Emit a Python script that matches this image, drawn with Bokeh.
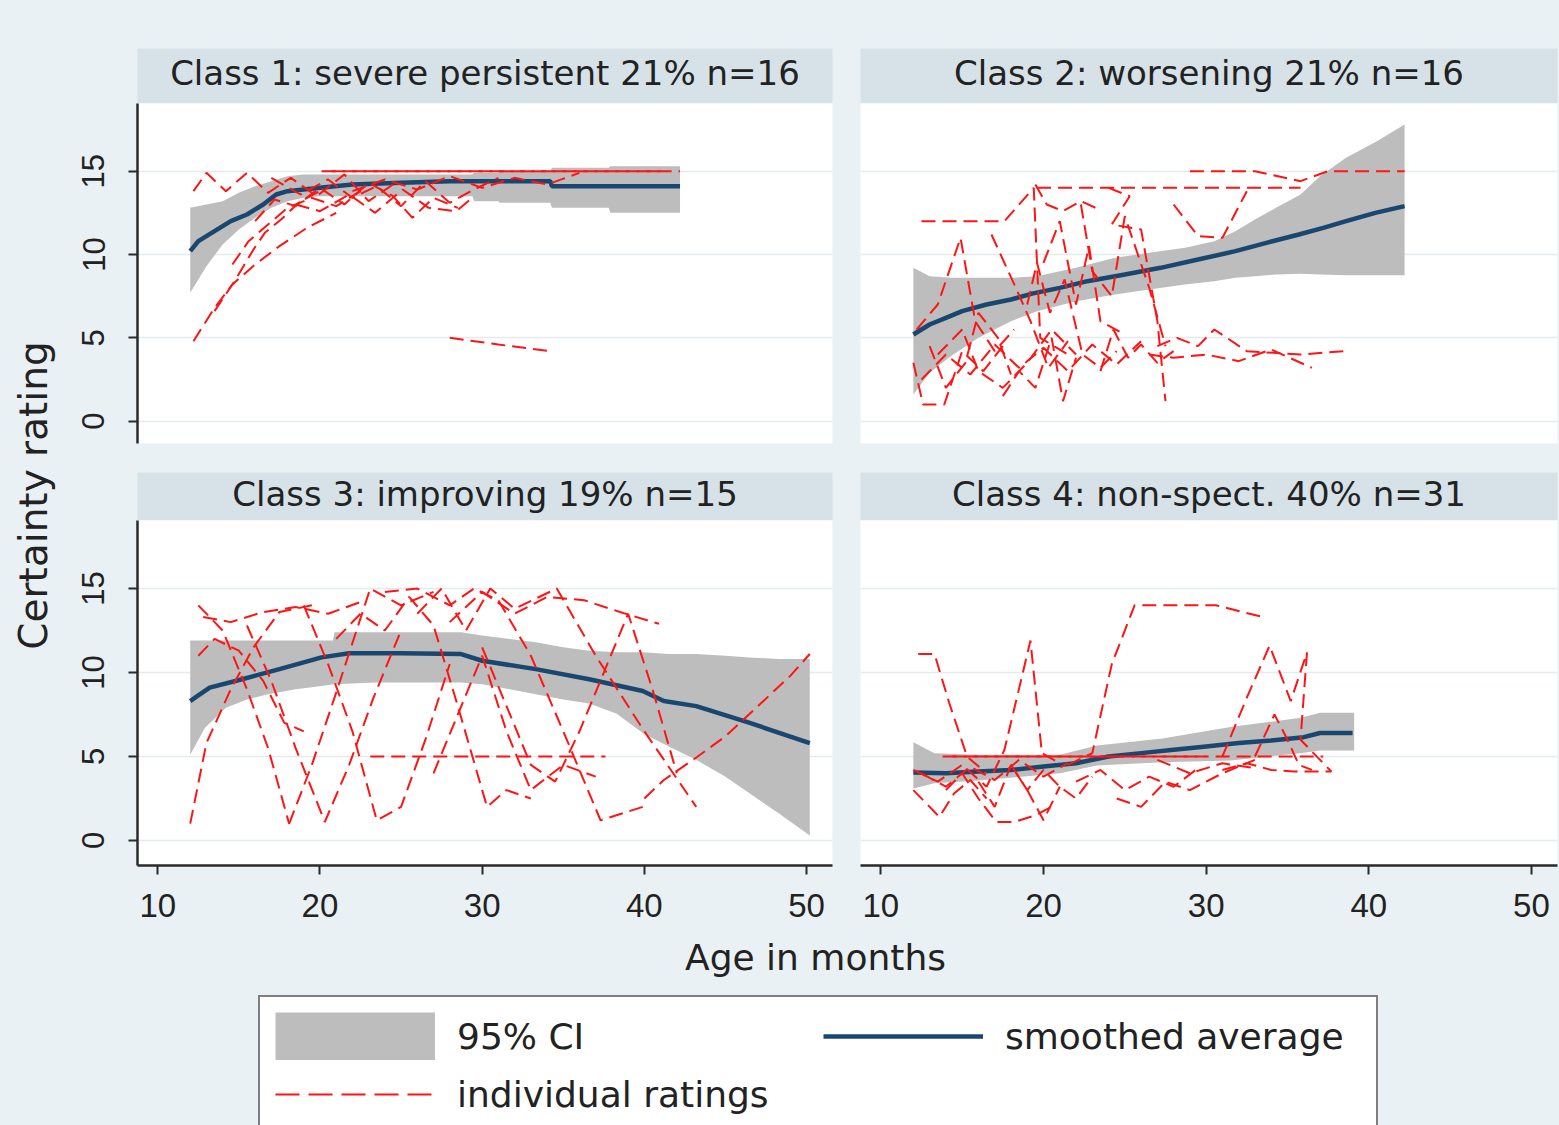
import math
from bokeh.plotting import figure
from bokeh.layouts import row, column
from bokeh.models import Range1d, FixedTicker, Label, Legend, LegendItem
from bokeh.embed import file_html
from bokeh.resources import INLINE

# ---------------------------------------------------------------- colours
PAGE_BG = "#eaf1f4"
HEAD_BG = "#d6e2e8"
GRID = "#e3ebef"
CI_GRAY = "#bdbdbd"
NAVY = "#1a476f"
RED = "#ff1414"
AXIS = "#2a2a2a"
INK = "#222222"

# ---------------------------------------------------------------- data
x_ticks = [10, 20, 30, 40, 50]
y_ticks = [0, 5, 10, 15]

titles = [
    "Class 1: severe persistent 21% n=16",
    "Class 2: worsening 21% n=16",
    "Class 3: improving 19% n=15",
    "Class 4: non-spect. 40% n=31",
]

# Class 1: severe persistent
c1_ci_x = [12, 13, 14, 15, 16, 17, 18, 19, 20, 22, 25, 29.4, 29.5, 31, 31.1, 34.2, 34.3, 37.8, 37.9, 42.2]
c1_ci_hi = [12.8, 13.0, 13.2, 13.7, 14.1, 14.4, 14.7, 14.8, 14.8, 14.8, 14.8, 14.8, 14.9, 14.9, 15.0, 15.0, 15.2, 15.2, 15.3, 15.3]
c1_ci_lo = [7.7, 9.3, 10.6, 11.5, 12.2, 12.8, 13.2, 13.4, 13.5, 13.5, 13.5, 13.5, 13.2, 13.2, 13.1, 13.1, 12.8, 12.8, 12.5, 12.5]
c1_avg_x = [12, 12.5, 13.5, 14.5, 15.5, 16.5, 17.3, 18, 19, 20, 22, 25, 28, 31, 34.2, 34.3, 42.2]
c1_avg_y = [10.2, 10.8, 11.4, 12.0, 12.4, 13.0, 13.6, 13.8, 13.9, 14.0, 14.2, 14.3, 14.4, 14.4, 14.4, 14.1, 14.1]
c1_ind = [
    ([12.2, 13.5, 14.6, 16.0, 17.5, 19.2, 21.0], [4.8, 6.8, 8.2, 9.4, 10.5, 11.6, 12.5]),
    ([13.5, 14.8, 15.9, 16.6, 17.6, 18.8, 20.2], [6.6, 8.5, 10.3, 11.3, 12.1, 13.2, 13.9]),
    ([14.6, 15.6, 16.8, 18.0, 19.5, 21.0, 22.5], [9.4, 10.8, 11.8, 12.8, 13.4, 12.9, 13.8]),
    ([12.2, 13.0, 14.2, 15.5, 16.8, 18.2, 19.8, 21.5, 23.0, 24.5], [13.8, 14.9, 13.8, 14.9, 13.7, 14.6, 13.5, 14.8, 13.2, 14.2]),
    ([16.0, 17.2, 18.5, 20.0, 21.5, 23.0, 24.5, 25.7, 27.0, 28.5], [12.0, 13.3, 12.9, 14.0, 13.0, 14.3, 13.5, 12.2, 13.4, 12.8]),
    ([17.0, 18.8, 20.5, 22.0, 23.5, 25.0, 26.5, 28.0, 29.5, 31.0], [14.6, 13.6, 14.5, 13.4, 14.1, 12.9, 14.4, 13.1, 13.9, 14.6]),
    ([20.1, 42.2], [15.0, 15.0]),
    ([20.7, 41.0], [15.0, 15.0]),
    ([22.0, 24.0, 26.0, 28.0, 30.0, 32.0, 34.0, 36.0], [13.8, 14.5, 13.9, 14.7, 14.0, 14.6, 14.2, 14.9]),
    ([28.0, 31.0, 34.2], [5.0, 4.6, 4.2]),
    ([18.5, 20.0, 21.8, 23.4, 25.1, 26.7, 28.4, 29.5], [13.0, 12.6, 13.6, 12.5, 13.9, 12.8, 12.6, 13.5]),
]

# Class 2: worsening
c2_ci_x = [12, 13, 14.3, 16, 18, 19.6, 22, 24.4, 26.5, 28.7, 30.5, 31.8, 33, 34.3, 35.8, 37, 38.6, 40.5, 42.2]
c2_ci_hi = [9.2, 8.7, 8.6, 8.6, 8.6, 8.7, 9.2, 9.8, 10.1, 10.4, 10.8, 11.4, 12.1, 12.8, 13.6, 14.7, 15.8, 16.8, 17.8]
c2_ci_lo = [1.6, 2.9, 3.9, 5.0, 6.0, 6.6, 7.2, 7.6, 7.9, 8.2, 8.4, 8.6, 8.7, 8.8, 8.85, 8.8, 8.75, 8.75, 8.75]
c2_avg_x = [12, 13, 14, 15, 16.5, 18, 19.3, 21, 22.7, 25, 27.2, 29.5, 31.8, 33.7, 35.7, 37.2, 38.6, 40.4, 42.2]
c2_avg_y = [5.2, 5.8, 6.2, 6.6, 7.0, 7.3, 7.65, 8.0, 8.4, 8.8, 9.2, 9.7, 10.2, 10.7, 11.2, 11.6, 12.0, 12.5, 12.9]
c2_ind = [
    ([12.5, 17.6, 19.4, 19.8, 21.5], [12.0, 12.0, 14.0, 5.0, 4.0]),
    ([19.6, 24.0, 28.0, 32.0, 35.8], [14.0, 14.0, 14.0, 14.0, 14.0]),
    ([29.0, 33.0, 35.8, 37.5, 42.2], [15.0, 15.0, 14.4, 15.0, 15.0]),
    ([12.0, 12.6, 13.9, 15.0, 16.3, 17.5], [3.5, 1.0, 1.0, 4.2, 3.0, 4.5]),
    ([12.2, 13.5, 14.9, 15.8, 17.0, 18.2], [5.5, 7.0, 11.0, 6.0, 4.2, 5.5]),
    ([16.8, 18.3, 19.2, 20.3, 21.5], [11.2, 8.0, 6.0, 3.2, 4.8]),
    ([19.5, 20.2, 21.2, 22.3, 23.2], [14.2, 13.0, 12.6, 13.2, 12.8]),
    ([22.3, 23.0, 24.2, 25.0, 26.5, 27.5], [13.0, 9.0, 7.5, 12.3, 8.0, 4.5]),
    ([24.0, 25.3, 24.2, 26.0, 27.0, 27.5], [14.0, 13.5, 11.8, 11.5, 6.0, 1.2]),
    ([27.0, 28.2, 29.5, 30.5, 32.5, 35.8, 38.5], [4.5, 5.0, 4.5, 5.5, 4.2, 4.0, 4.2]),
    ([26.5, 28.0, 30.0, 32.0, 34.0, 36.5], [4.0, 3.8, 4.0, 3.6, 4.3, 3.2]),
    ([28.0, 29.5, 31.0, 32.5], [13.0, 11.1, 11.0, 13.8]),
    ([12.5, 14.0, 15.5, 17.0, 18.5, 20.0, 21.5, 23.0, 24.5, 26.0], [2.5, 4.0, 2.8, 4.6, 3.2, 4.4, 3.0, 4.6, 3.4, 4.8]),
    ([13.5, 15.0, 16.0, 17.5, 19.0, 20.5, 22.0], [4.0, 5.5, 3.0, 2.0, 3.5, 5.5, 4.0]),
    ([20.0, 21.0, 22.0, 22.8, 23.5, 25.0], [9.5, 12.0, 7.0, 10.5, 6.0, 5.2]),
    ([17.5, 18.5, 19.5, 20.5, 21.2, 22.0], [1.5, 3.0, 2.0, 5.0, 1.2, 3.8]),
    ([13.0, 14.0, 15.2, 16.0, 17.2, 18.0], [4.5, 2.0, 3.5, 6.5, 5.0, 2.8]),
    ([19.0, 19.6, 20.4, 21.3, 22.4, 23.5, 24.5], [7.0, 9.5, 6.5, 8.5, 4.0, 3.2, 4.2]),
    ([23.5, 24.3, 25.2, 26.0, 27.0, 28.0], [3.0, 5.5, 3.8, 4.6, 3.5, 4.2]),
]

# Class 3: improving
c3_ci_x = [12, 12.9, 14.2, 15.5, 16.8, 18.5, 20.1, 20.8, 20.9, 23.4, 28.7, 30, 31.7, 33.3, 35, 36.6, 38.3, 39.9, 41.5, 43.2, 45, 46.5, 48.3, 50.2]
c3_ci_hi = [11.9, 11.9, 11.9, 11.9, 11.9, 11.9, 11.9, 11.9, 12.4, 12.4, 12.4, 12.2, 12.0, 11.8, 11.5, 11.3, 11.2, 11.2, 11.1, 11.1, 11.0, 10.9, 10.8, 10.8]
c3_ci_lo = [5.1, 6.7, 7.9, 8.4, 8.7, 9.0, 9.2, 9.3, 9.3, 9.4, 9.4, 9.3, 9.0, 8.7, 8.4, 8.15, 7.55, 6.4, 5.6, 4.8, 3.8, 2.8, 1.6, 0.3]
c3_avg_x = [12, 12.3, 13.2, 15.2, 17.5, 20.1, 21.8, 25, 28.7, 30, 33.3, 36.6, 39.9, 41.2, 43.2, 46.5, 50.2]
c3_avg_y = [8.3, 8.5, 9.1, 9.6, 10.2, 10.9, 11.15, 11.15, 11.1, 10.7, 10.2, 9.6, 8.9, 8.3, 8.0, 7.0, 5.8]
c3_ind = [
    ([12.0, 13.0, 14.5, 15.9, 17.5, 19.5], [1.0, 5.8, 9.0, 11.5, 13.6, 14.0]),
    ([12.5, 14.0, 15.5, 16.8, 18.1], [14.0, 12.5, 9.0, 5.5, 1.0]),
    ([12.8, 14.5, 16.5, 18.5, 20.5, 22.5], [13.3, 13.0, 13.6, 13.9, 13.5, 14.2]),
    ([12.5, 13.5, 15.0, 16.5, 17.8, 19.0], [11.0, 12.0, 11.3, 9.5, 7.0, 6.5]),
    ([15.5, 17.0, 18.5, 20.3, 21.8, 23.3, 25.0], [12.8, 9.5, 5.5, 1.1, 4.5, 8.5, 12.5]),
    ([18.1, 19.5, 21.0, 23.1, 25.0, 27.0], [1.0, 4.5, 8.8, 15.0, 14.0, 14.8]),
    ([19.0, 20.5, 22.0, 23.5, 25.0, 26.5, 28.0], [14.0, 10.5, 6.5, 1.2, 2.0, 6.0, 10.5]),
    ([21.0, 22.5, 24.0, 25.5, 27.0, 28.5, 30.3, 31.5, 33.0], [12.0, 13.5, 12.5, 14.5, 12.8, 8.0, 2.0, 3.0, 2.5]),
    ([23.1, 26.0, 29.0, 32.0, 35.0, 37.6], [5.0, 5.0, 5.0, 5.0, 5.0, 5.0]),
    ([24.0, 26.0, 28.0, 29.5, 31.0, 33.0, 35.0, 37.3, 39.9], [14.8, 15.0, 14.0, 15.0, 14.3, 11.0, 6.5, 1.2, 2.0]),
    ([26.0, 27.5, 29.0, 30.5, 32.0, 34.6, 37.0, 40.0, 43.2], [13.5, 15.0, 12.5, 15.0, 13.8, 15.0, 11.0, 6.5, 2.0]),
    ([28.0, 30.0, 32.0, 34.0, 36.3, 38.5, 40.9], [13.0, 14.8, 13.5, 14.5, 14.3, 13.6, 12.9]),
    ([30.0, 31.5, 33.0, 34.5, 36.0, 37.5, 39.0, 40.5, 42.0], [11.5, 8.0, 4.5, 3.5, 6.5, 10.0, 13.5, 9.0, 4.0]),
    ([40.0, 41.2, 43.0, 45.0, 47.0, 49.0, 50.2], [2.5, 3.6, 4.8, 6.2, 8.0, 9.8, 11.1]),
    ([27.0, 28.5, 30.0, 31.5, 33.0, 35.0, 37.0], [4.0, 7.5, 11.0, 6.5, 3.0, 4.5, 3.8]),
]

# Class 4: non-specific
c4_ci_x = [12, 13.3, 16, 21, 23.3, 27.3, 31.5, 35.8, 37.0, 39.1]
c4_ci_hi = [5.85, 5.2, 5.1, 5.1, 5.65, 6.07, 6.75, 7.3, 7.6, 7.6]
c4_ci_lo = [3.1, 3.4, 3.57, 4.0, 4.46, 4.66, 4.76, 5.2, 5.36, 5.36]
c4_avg_x = [12, 14, 16, 18, 20, 22, 24, 26, 28, 30, 32, 34, 36, 37, 39]
c4_avg_y = [4.05, 4.0, 4.1, 4.2, 4.4, 4.6, 5.0, 5.2, 5.4, 5.6, 5.8, 5.95, 6.15, 6.4, 6.4]
c4_ind = [
    ([12.3, 13.3, 14.2, 15.3, 16.5], [11.1, 11.1, 8.2, 5.0, 4.0]),
    ([12.0, 13.5, 15.0, 16.5, 17.6, 19.2, 19.9, 21.0], [4.2, 3.5, 4.5, 3.2, 5.4, 11.9, 5.2, 4.6]),
    ([21.5, 23.0, 24.2, 25.6, 28.0, 30.6, 33.5], [4.5, 5.2, 10.5, 14.0, 14.0, 14.0, 13.3]),
    ([31.0, 32.5, 33.9, 35.2, 36.2, 35.8, 37.7], [5.0, 8.5, 11.6, 8.3, 11.2, 6.0, 4.1]),
    ([13.8, 37.2], [5.0, 5.0]),
    ([14.4, 30.0], [5.0, 5.0]),
    ([12.0, 12.8, 13.6, 14.5, 15.5, 16.5], [3.0, 2.2, 1.4, 2.8, 3.6, 2.5]),
    ([14.0, 15.0, 16.0, 17.1, 18.2, 19.5, 20.5], [3.0, 4.0, 2.5, 1.1, 1.1, 1.5, 2.0]),
    ([18.0, 19.0, 20.0, 21.0, 22.0, 23.0], [4.5, 3.0, 4.2, 3.2, 2.5, 3.8]),
    ([22.0, 23.5, 25.0, 26.5, 28.0, 29.5], [3.5, 4.2, 3.0, 3.8, 3.2, 4.3]),
    ([24.5, 26.0, 27.5, 29.0, 31.0, 33.0], [2.5, 2.0, 3.5, 3.0, 4.0, 4.8]),
    ([31.0, 32.5, 34.0, 35.4, 37.7], [4.2, 4.6, 4.2, 4.1, 4.1]),
    ([12.5, 14.0, 15.5, 17.0, 18.5, 20.0, 21.5], [4.0, 3.2, 4.4, 3.6, 4.8, 3.8, 4.6]),
    ([16.0, 17.0, 18.0, 19.0, 20.0, 21.0], [3.5, 2.0, 4.5, 3.0, 1.2, 3.2]),
    ([33.0, 34.2, 35.0, 35.7, 36.5], [5.0, 7.5, 6.0, 4.5, 4.2]),
    ([27.0, 29.0, 31.0, 33.0], [4.8, 4.0, 4.6, 4.3]),
]

# ---------------------------------------------------------------- geometry
YLAB_W = 60
L_LEFT, L_FRAME, L_RIGHT = 77, 695, 14
R_LEFT, R_FRAME, R_RIGHT = 14, 697, 2
X_RANGE = (8.75, 51.6)

TICK_FONT = "Liberation Sans"
TEXT_FONT = "DejaVu Sans"
DASH = "14 7"


def style_axis(ax, size):
    ax.axis_line_color = AXIS
    ax.axis_line_width = 2.5
    ax.major_tick_line_color = AXIS
    ax.major_tick_line_width = 2
    ax.major_tick_out = 9
    ax.major_tick_in = 0
    ax.minor_tick_out = 0
    ax.minor_tick_in = 0
    ax.major_label_text_font = TICK_FONT
    ax.major_label_text_font_size = size
    ax.major_label_text_color = INK


def panel(ci_x, ci_lo, ci_hi, avg_x, avg_y, ind, left, frame_w, right,
          frame_h, bottom, y_lo, y_hi, show_x, show_y):
    p = figure(width=left + frame_w + right, height=frame_h + bottom,
               x_range=Range1d(*X_RANGE), y_range=Range1d(y_lo, y_hi),
               min_border_left=left, min_border_right=right,
               min_border_top=0, min_border_bottom=bottom,
               output_backend="svg", toolbar_location=None, title=None)
    p.background_fill_color = "white"
    p.border_fill_color = PAGE_BG
    p.outline_line_color = None

    p.varea(x=ci_x, y1=ci_lo, y2=ci_hi, fill_color=CI_GRAY, fill_alpha=1.0)
    p.line(avg_x, avg_y, line_color=NAVY, line_width=4.5)
    p.multi_line(xs=[seg[0] for seg in ind], ys=[seg[1] for seg in ind],
                 line_color=RED, line_width=2, line_dash=DASH)

    p.xaxis.ticker = FixedTicker(ticks=x_ticks)
    p.yaxis.ticker = FixedTicker(ticks=y_ticks)
    p.ygrid.ticker = FixedTicker(ticks=y_ticks)
    p.xgrid.visible = False
    p.ygrid.grid_line_color = GRID
    p.ygrid.grid_line_width = 1.5

    style_axis(p.xaxis[0], "33px")
    style_axis(p.yaxis[0], "31px")
    p.xaxis.major_label_standoff = 19
    p.yaxis.major_label_standoff = 24
    p.yaxis.major_label_orientation = "vertical"
    p.xaxis.visible = show_x
    p.yaxis.visible = show_y
    return p


def header(text, top_pad, band_h, left, frame_w, right):
    h = figure(width=left + frame_w + right, height=top_pad + band_h,
               x_range=Range1d(0, 1), y_range=Range1d(0, 1),
               x_axis_type=None, y_axis_type=None,
               min_border_left=left, min_border_right=right,
               min_border_top=top_pad, min_border_bottom=0,
               output_backend="svg", toolbar_location=None, title=None)
    h.background_fill_color = HEAD_BG
    h.border_fill_color = PAGE_BG
    h.outline_line_color = None
    h.add_layout(Label(x=0.5, y=0.55, text=text, text_align="center",
                       text_baseline="middle", text_font=TEXT_FONT,
                       text_font_size="34px", text_color=INK))
    return h


h1 = header(titles[0], 48, 55, L_LEFT, L_FRAME, L_RIGHT)
h2 = header(titles[1], 48, 55, R_LEFT, R_FRAME, R_RIGHT)
h3 = header(titles[2], 12, 48, L_LEFT, L_FRAME, L_RIGHT)
h4 = header(titles[3], 12, 48, R_LEFT, R_FRAME, R_RIGHT)

p1 = panel(c1_ci_x, c1_ci_lo, c1_ci_hi, c1_avg_x, c1_avg_y, c1_ind,
           L_LEFT, L_FRAME, L_RIGHT, 340, 17, -1.34, 19.06, False, True)
p2 = panel(c2_ci_x, c2_ci_lo, c2_ci_hi, c2_avg_x, c2_avg_y, c2_ind,
           R_LEFT, R_FRAME, R_RIGHT, 340, 17, -1.34, 19.06, False, False)
p3 = panel(c3_ci_x, c3_ci_lo, c3_ci_hi, c3_avg_x, c3_avg_y, c3_ind,
           L_LEFT, L_FRAME, L_RIGHT, 345, 65, -1.49, 19.05, True, True)
p4 = panel(c4_ci_x, c4_ci_lo, c4_ci_hi, c4_avg_x, c4_avg_y, c4_ind,
           R_LEFT, R_FRAME, R_RIGHT, 345, 65, -1.49, 19.05, True, False)

# shared y-axis title on the left
TOP_H = 103 + 357 + 60 + 410
ylab = figure(width=YLAB_W, height=TOP_H, x_range=Range1d(0, YLAB_W),
              y_range=Range1d(0, TOP_H), x_axis_type=None, y_axis_type=None,
              min_border=0, output_backend="svg", toolbar_location=None, title=None)
ylab.background_fill_color = PAGE_BG
ylab.border_fill_color = PAGE_BG
ylab.outline_line_color = None
ylab.add_layout(Label(x=33, y=TOP_H - 495, text="Certainty rating", angle=math.pi / 2,
                      text_align="center", text_baseline="middle",
                      text_font=TEXT_FONT, text_font_size="39px", text_color=INK))

# shared x-axis title and the legend underneath
FOOT_W, FOOT_H = 1559, 195
foot = figure(width=FOOT_W, height=FOOT_H, x_range=Range1d(0, FOOT_W),
              y_range=Range1d(0, FOOT_H), x_axis_type=None, y_axis_type=None,
              min_border=0, output_backend="svg", toolbar_location=None, title=None)
foot.background_fill_color = PAGE_BG
foot.border_fill_color = PAGE_BG
foot.outline_line_color = None
foot.add_layout(Label(x=815, y=FOOT_H - 27, text="Age in months", text_align="center",
                      text_baseline="middle", text_font=TEXT_FONT,
                      text_font_size="36px", text_color=INK))

# legend keys: hidden copies of the class 1 series, styled like the panels
# (the band key is a broad grey stroke so that it fills the whole key box)
k_ci = foot.line(c1_ci_x, c1_ci_hi, line_color=CI_GRAY, line_width=48,
                 line_cap="butt", visible=False)
k_avg = foot.line(c1_avg_x, c1_avg_y, line_color=NAVY, line_width=4.5, visible=False)
k_ind = foot.line(c1_ind[0][0], c1_ind[0][1], line_color=RED, line_width=2,
                  line_dash="24 9", visible=False)

legend = Legend(
    items=[LegendItem(label="95% CI", renderers=[k_ci]),
           LegendItem(label="smoothed average", renderers=[k_avg]),
           LegendItem(label="individual ratings", renderers=[k_ind])],
    location=(258, -10), orientation="horizontal", ncols=2,
    glyph_width=160, glyph_height=48, label_standoff=22, label_width=356,
    spacing=10, padding=15, margin=0,
    label_text_font=TEXT_FONT, label_text_font_size="36px", label_text_color=INK,
    border_line_color="black", border_line_width=2,
    background_fill_color="white", background_fill_alpha=1.0,
    inactive_fill_alpha=0.0,
)
foot.add_layout(legend)

bg = {"background-color": PAGE_BG}
left_col = column(h1, p1, h3, p3, styles=bg)
right_col = column(h2, p2, h4, p4, styles=bg)
layout = column(row(ylab, left_col, right_col, styles=bg), foot, styles=bg)

with open("out.html", "w") as f:
    f.write(file_html(layout, INLINE, title="Certainty rating by class"))
